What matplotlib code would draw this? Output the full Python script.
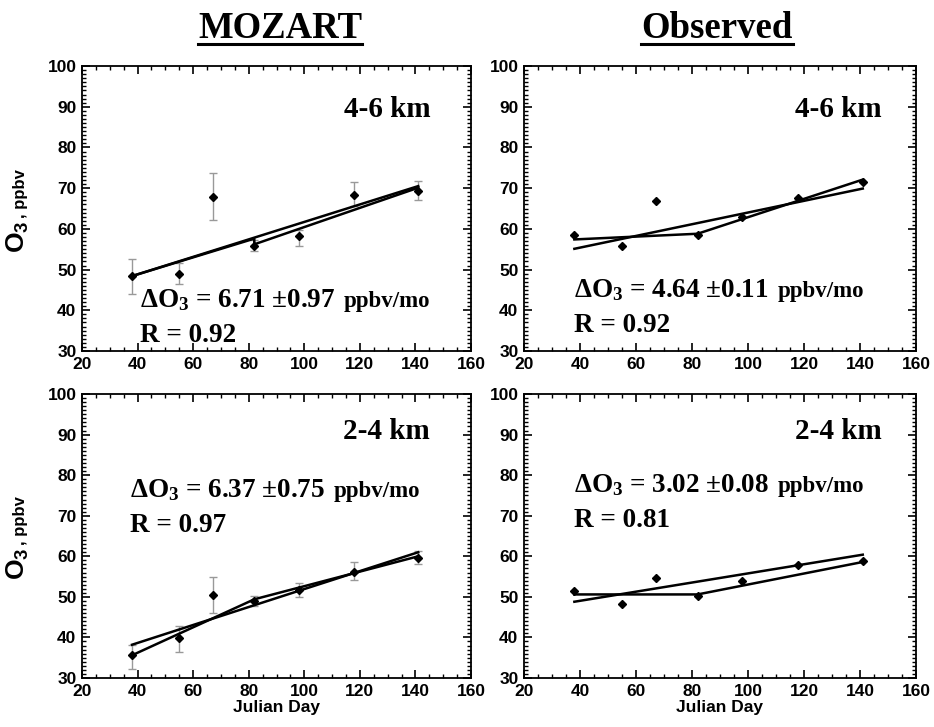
import numpy as np
import matplotlib.pyplot as plt
from matplotlib.lines import Line2D
from matplotlib.ticker import MultipleLocator

plt.rcParams["mathtext.fontset"] = "custom"
plt.rcParams["mathtext.rm"] = "Liberation Serif:bold"
plt.rcParams["mathtext.it"] = "Liberation Serif:bold"
plt.rcParams["mathtext.bf"] = "Liberation Serif:bold"
plt.rcParams["mathtext.sf"] = "Liberation Sans:bold"

# data
julian_day = [38, 55, 67, 82, 98, 118, 141]
fit_days = [38, 141]
break_days = [38, 82, 82, 141]

mozart_46 = [48.4, 48.9, 67.9, 55.9, 58.2, 68.3, 69.3]
mozart_46_lo = [44.1, 46.4, 62.1, 54.5, 55.7, 65.7, 67.1]
mozart_46_hi = [52.5, 51.5, 73.6, 57.3, 59.6, 71.5, 71.8]
mozart_46_fit = [48.4, 70.5]
mozart_46_break = [48.4, 57.6, 56.2, 70.1]

observed_46 = [58.4, 55.8, 66.9, 58.5, 63.0, 67.6, 71.4]
observed_46_fit = [55.1, 69.9]
observed_46_break = [57.4, 58.8, 58.8, 72.1]

mozart_24 = [35.6, 39.8, 50.4, 49.0, 51.7, 56.1, 59.6]
mozart_24_lo = [32.3, 36.3, 46.0, 47.7, 50.0, 54.2, 58.1]
mozart_24_hi = [38.2, 42.7, 54.8, 50.2, 53.5, 58.5, 61.4]
mozart_24_fit = [38.2, 61.0]
mozart_24_break = [35.6, 49.4, 49.4, 60.0]

observed_24 = [51.4, 48.2, 54.7, 50.1, 53.8, 57.9, 58.9]
observed_24_fit = [48.8, 60.4]
observed_24_break = [50.6, 50.6, 50.6, 58.6]

slopes = ["6.71", "4.64", "6.37", "3.02"]
slope_errs = ["0.97", "0.11", "0.75", "0.08"]
r_values = ["0.92", "0.92", "0.97", "0.81"]
layers = ["4-6 km", "4-6 km", "2-4 km", "2-4 km"]

fig = plt.figure(figsize=(9.34, 7.27), dpi=100)

boxes = [
    [0.0878, 0.5172, 0.4165, 0.392],
    [0.561, 0.5172, 0.4197, 0.392],
    [0.0878, 0.0674, 0.4165, 0.3906],
    [0.561, 0.0674, 0.4197, 0.3906],
]
series = [
    (mozart_46, mozart_46_lo, mozart_46_hi, mozart_46_fit, mozart_46_break),
    (observed_46, None, None, observed_46_fit, observed_46_break),
    (mozart_24, mozart_24_lo, mozart_24_hi, mozart_24_fit, mozart_24_break),
    (observed_24, None, None, observed_24_fit, observed_24_break),
]
eq_pos = [(0.149, 0.155, 0.033), (0.128, 0.19, 0.068),
          (0.123, 0.638, 0.515), (0.128, 0.656, 0.533)]
layer_x = [0.895, 0.913, 0.895, 0.913]
layer_y = [0.849, 0.849, 0.867, 0.867]

axes = []
eq_texts = []
ylabels = []
for i, box in enumerate(boxes):
    ax = fig.add_axes(box)
    axes.append(ax)
    vals, lo, hi, fit, brk = series[i]
    vals = np.array(vals)
    if lo is not None:
        yerr = [vals - np.array(lo), np.array(hi) - vals]
        ax.errorbar(julian_day, vals, yerr=yerr, fmt="none", ecolor="#999999",
                    elinewidth=1, capsize=3, capthick=1, zorder=2)
    ax.plot(fit_days, fit, color="black", lw=1.8, zorder=3)
    ax.plot(break_days, brk, color="black", lw=1.8, zorder=3)
    ax.plot(julian_day, vals, "D", color="black", markersize=4.5, zorder=4)

    ax.set_xlim(20, 160)
    ax.set_ylim(30, 100)
    ax.xaxis.set_major_locator(MultipleLocator(20))
    ax.xaxis.set_minor_locator(MultipleLocator(5))
    ax.yaxis.set_major_locator(MultipleLocator(10))
    ax.yaxis.set_minor_locator(MultipleLocator(1))
    ax.tick_params(which="both", direction="in", top=True, right=True)
    ax.tick_params(which="major", length=6, width=1.2, labelsize=12.5, pad=4)
    ax.tick_params(which="minor", length=3, width=1)
    for lab in ax.get_xticklabels() + ax.get_yticklabels():
        lab.set_fontfamily("Liberation Sans")
        lab.set_fontweight("bold")
    for sp in ax.spines.values():
        sp.set_linewidth(1.3)

    ax.text(layer_x[i], layer_y[i], layers[i], transform=ax.transAxes,
            ha="right", va="center", fontsize=21, fontweight="bold",
            fontfamily="Liberation Serif")

    ex, ey, ry = eq_pos[i]
    t = ax.text(ex, ey, r"$\Delta\mathrm{O}_3$ = " + slopes[i] + " ±" + slope_errs[i],
                transform=ax.transAxes, ha="left", va="baseline", fontsize=19.5,
                fontweight="bold", fontfamily="Liberation Serif")
    eq_texts.append((ax, t, ey))
    ax.text(ex, ry, "R = " + r_values[i], transform=ax.transAxes, ha="left",
            va="baseline", fontsize=19.5, fontweight="bold",
            fontfamily="Liberation Serif")

    if i in (0, 2):
        yl = ax.text(-0.1465, 0.344, r"$\mathsf{O_3}$", transform=ax.transAxes,
                     rotation=90, rotation_mode="anchor", ha="left",
                     va="baseline", fontsize=19)
        ylabels.append((ax, yl))
    if i in (2, 3):
        ax.set_xlabel("Julian Day", fontsize=12.5, fontweight="bold",
                      fontfamily="Liberation Sans", labelpad=1)

titles = []
for txt, xc in [("MOZART", 280 / 934), ("Observed", 717 / 934)]:
    titles.append(fig.text(xc, 0.961, txt, ha="center", va="center", fontsize=26.5,
                           fontweight="bold", fontfamily="Liberation Serif"))

fig.canvas.draw()
renderer = fig.canvas.get_renderer()

# units after the slope text
for ax, t, ey in eq_texts:
    bb = t.get_window_extent(renderer).transformed(ax.transAxes.inverted())
    ax.text(bb.x1 + 0.022, ey, "ppbv/mo", transform=ax.transAxes, ha="left",
            va="baseline", fontsize=16.5, fontweight="bold",
            fontfamily="Liberation Serif")

# rest of the y label
for ax, yl in ylabels:
    bb = yl.get_window_extent(renderer).transformed(ax.transAxes.inverted())
    ax.text(-0.1465, bb.y1 + 0.01, ", ppbv", transform=ax.transAxes,
            rotation=90, rotation_mode="anchor", ha="left", va="baseline",
            fontsize=12, fontweight="bold", fontfamily="Liberation Sans")

# underline the column titles
for t in titles:
    bb = t.get_window_extent(renderer).transformed(fig.transFigure.inverted())
    fig.add_artist(Line2D([bb.x0, bb.x1], [bb.y0 + 0.003, bb.y0 + 0.003],
                          color="black", lw=2.2, transform=fig.transFigure))

fig.savefig("out.png", dpi=100)
